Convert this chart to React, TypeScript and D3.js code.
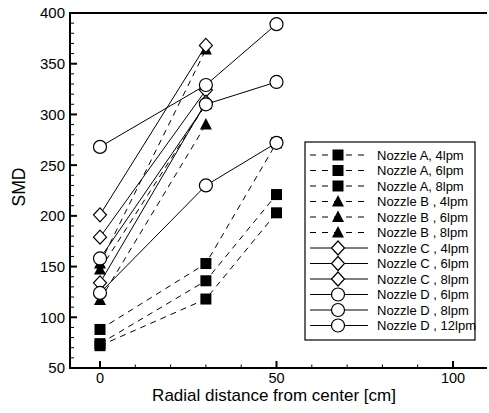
import React from "react";
import * as d3 from "d3";

// radial positions [cm]
const radialPos = [0, 30, 50];

// SMD values
const nozzleA4 = [88, 153, 272];
const nozzleA6 = [74, 136, 221];
const nozzleA8 = [72, 118, 203];
const nozzleB4 = [153, 364];
const nozzleB6 = [147, 310];
const nozzleB8 = [117, 290];
const nozzleC4 = [201, 368];
const nozzleC6 = [179, 324];
const nozzleC8 = [134, 312];
const nozzleD6 = [124, 230, 272];
const nozzleD8 = [158, 310, 332];
const nozzleD12 = [268, 329, 389];

const legendLabels = [
  "Nozzle A, 4lpm", "Nozzle A, 6lpm", "Nozzle A, 8lpm",
  "Nozzle B , 4lpm", "Nozzle B , 6lpm", "Nozzle B , 8lpm",
  "Nozzle C , 4lpm", "Nozzle C , 6lpm", "Nozzle C , 8lpm",
  "Nozzle D , 6lpm", "Nozzle D , 8lpm", "Nozzle D , 12lpm",
];

const xTicks = [0, 50, 100];
const yTicks = [50, 100, 150, 200, 250, 300, 350, 400];

const series = [
  { vals: nozzleA4, mark: "square", dashed: true },
  { vals: nozzleA6, mark: "square", dashed: true },
  { vals: nozzleA8, mark: "square", dashed: true },
  { vals: nozzleB4, mark: "triangle", dashed: true },
  { vals: nozzleB6, mark: "triangle", dashed: true },
  { vals: nozzleB8, mark: "triangle", dashed: true },
  { vals: nozzleC4, mark: "diamond", dashed: false },
  { vals: nozzleC6, mark: "diamond", dashed: false },
  { vals: nozzleC8, mark: "diamond", dashed: false },
  { vals: nozzleD6, mark: "circle", dashed: false },
  { vals: nozzleD8, mark: "circle", dashed: false },
  { vals: nozzleD12, mark: "circle", dashed: false },
].map((s, i) => ({ ...s, label: legendLabels[i] }));

const W = 489, H = 413;
const FONT = "'Liberation Sans', Arial, Helvetica, sans-serif";

function Marker({ kind, x, y }: { kind: string; x: number; y: number }) {
  if (kind === "square")
    return <rect x={x - 5.5} y={y - 5.5} width={11} height={11} fill="#000" />;
  if (kind === "triangle")
    return <path d={`M${x},${y - 6.5}L${x + 6},${y + 5}L${x - 6},${y + 5}Z`} fill="#000" />;
  if (kind === "diamond")
    return (
      <path d={`M${x},${y - 7}L${x + 6.5},${y}L${x},${y + 7}L${x - 6.5},${y}Z`}
        fill="#fff" stroke="#000" strokeWidth={1.2} />
    );
  return <circle cx={x} cy={y} r={6.5} fill="#fff" stroke="#000" strokeWidth={1.2} />;
}

export default function App() {
  const x = d3.scaleLinear().domain([0, 100]).range([100, 453]);
  const y = d3.scaleLinear().domain([50, 400]).range([368, 13]);
  const left = 70, right = 487, top = y(400), bottom = y(50);

  const line = d3.line<number>()
    .x((_, i) => x(radialPos[i]))
    .y((d) => y(d));

  const xMinor = d3.range(0, 110, 10).filter((v) => v % 50 !== 0);
  const yMinor = d3.range(60, 400, 10).filter((v) => v % 50 !== 0);

  const legX = 305, legY = 142, legRow = 15.5;

  return (
    <svg width={W} height={H} style={{ position: "absolute", left: 0, top: 0, background: "#fff" }}
      fontFamily={FONT}>
      <rect width={W} height={H} fill="#fff" />

      {/* data lines */}
      {series.map((s, i) => (
        <path key={"l" + i} d={line(s.vals) || ""} fill="none" stroke="#000" strokeWidth={1}
          strokeDasharray={s.dashed ? "6,5" : undefined} />
      ))}
      {/* markers */}
      {series.map((s, i) =>
        s.vals.map((v, j) => <Marker key={`m${i}-${j}`} kind={s.mark} x={x(radialPos[j])} y={y(v)} />)
      )}

      {/* frame */}
      <line x1={left} x2={right} y1={top} y2={top} stroke="#000" strokeWidth={2} />
      <line x1={left} x2={right} y1={bottom} y2={bottom} stroke="#000" strokeWidth={2} />
      <line x1={left} x2={left} y1={top - 1} y2={bottom + 1} stroke="#000" strokeWidth={2} />

      {/* x ticks */}
      {xTicks.map((t) => (
        <g key={"xt" + t}>
          <line x1={x(t)} x2={x(t)} y1={bottom} y2={bottom - 7} stroke="#000" strokeWidth={2} />
          <text x={x(t)} y={bottom + 15} fontSize={14.5} textAnchor="middle">{t}</text>
        </g>
      ))}
      {xMinor.map((t) => (
        <line key={"xm" + t} x1={x(t)} x2={x(t)} y1={bottom} y2={bottom - 3.5} stroke="#000" strokeWidth={1} />
      ))}

      {/* y ticks */}
      {yTicks.map((t) => (
        <g key={"yt" + t}>
          <line x1={left} x2={left + 7} y1={y(t)} y2={y(t)} stroke="#000" strokeWidth={2} />
          <text x={left - 5} y={y(t)} dy="0.36em" fontSize={15} textAnchor="end">{t}</text>
        </g>
      ))}
      {yMinor.map((t) => (
        <line key={"ym" + t} x1={left} x2={left + 4} y1={y(t)} y2={y(t)} stroke="#000" strokeWidth={1} />
      ))}

      {/* axis titles */}
      <text x={274} y={401} fontSize={17} textAnchor="middle">Radial distance from center [cm]</text>
      <text transform="translate(25,187) rotate(-90)" fontSize={17.5} textAnchor="middle">SMD</text>

      {/* legend */}
      <rect x={legX} y={legY} width={170} height={198} fill="#fff" stroke="#000" strokeWidth={1.2} />
      {series.map((s, i) => {
        const cy = legY + 13 + i * legRow;
        return (
          <g key={"lg" + i}>
            <line x1={legX + 5} x2={legX + 63} y1={cy} y2={cy} stroke="#000" strokeWidth={1}
              strokeDasharray={s.dashed ? "6,6" : undefined} />
            <Marker kind={s.mark} x={legX + 33} y={cy} />
            <text x={legX + 72} y={cy} dy="0.36em" fontSize={13}>{s.label}</text>
          </g>
        );
      })}
    </svg>
  );
}
